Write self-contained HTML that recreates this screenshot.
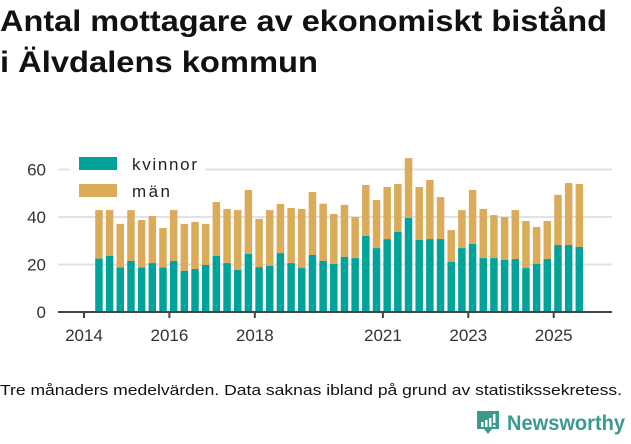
<!DOCTYPE html>
<html><head><meta charset="utf-8"><style>
body{margin:0;width:631px;height:439px;background:#fff;overflow:hidden;font-family:"Liberation Sans","DejaVu Sans",sans-serif}
</style></head><body>
<svg width="631" height="439" xmlns="http://www.w3.org/2000/svg">
<text x="0" y="31" font-size="30" font-weight="bold" fill="#111" textLength="607" lengthAdjust="spacingAndGlyphs">Antal mottagare av ekonomiskt bistånd</text>
<text x="0" y="72" font-size="30" font-weight="bold" fill="#111" textLength="318" lengthAdjust="spacingAndGlyphs">i Älvdalens kommun</text>
<g id="grid"></g>
<g id="bars"></g>
<g id="axis"></g>
<rect x="70" y="150" width="135" height="55" fill="#fff"/>
<rect x="79" y="157" width="38" height="13" fill="#00a39a"/>
<text x="132" y="170" font-size="17" fill="#222" textLength="65">kvinnor</text>
<rect x="79" y="184" width="38" height="13" fill="#dbab5a"/>
<text x="132" y="197" font-size="17" fill="#222" textLength="38">män</text>
<text x="0" y="395" font-size="15" fill="#111" textLength="622" lengthAdjust="spacingAndGlyphs">Tre månaders medelvärden. Data saknas ibland på grund av statistikssekretess.</text>
<g>
<path d="M477 411h22v18h-7l-4 5-4-5h-7z" fill="#3a9a8e"/>
<rect x="481" y="422" width="2.5" height="5" fill="#fff"/><rect x="485" y="420" width="2.5" height="7" fill="#fff"/><rect x="489" y="418" width="2.5" height="9" fill="#fff"/><rect x="493" y="414" width="2.5" height="9" fill="#fff"/><rect x="493" y="425" width="2.5" height="2" fill="#fff"/>
<text x="507" y="430" font-size="21" font-weight="bold" fill="#3a9a8e" textLength="118" lengthAdjust="spacingAndGlyphs">Newsworthy</text>
</g>
</svg>
<script>
const kvinnor=[22.5,23.6,18.7,21.5,18.7,20.6,18.7,21.5,17.3,18.1,19.8,23.6,20.6,17.7,24.4,18.9,19.4,24.8,20.6,18.5,24.0,21.5,20.2,23.2,22.7,32.0,26.9,30.7,33.7,39.6,30.3,30.7,30.7,21.1,26.9,28.6,22.7,22.7,21.9,22.3,18.5,20.2,22.3,28.2,28.2,27.4];
const total=[42.9,42.9,37.1,42.9,38.7,40.4,35.4,42.9,37.1,37.9,37.1,46.3,43.4,42.9,51.4,39.2,42.9,45.5,43.8,43.4,50.5,45.6,41.3,45.1,40.0,53.5,47.2,52.6,53.9,64.8,52.6,55.6,48.4,34.5,42.9,51.4,43.4,40.8,40.0,42.9,38.3,35.8,38.3,49.3,54.3,53.9];
const yTicks=[0,20,40,60];
const xTicks=[2014,2016,2018,2021,2023,2025];
const startYear=2014.35;
const NS="http://www.w3.org/2000/svg";
const y=v=>312-v*2.375;
const x=t=>84+(t-2014)*42.7;
const grid=document.getElementById('grid'),bars=document.getElementById('bars'),axis=document.getElementById('axis');
function mk(tag,at,p){const e=document.createElementNS(NS,tag);for(const k in at)e.setAttribute(k,at[k]);p.appendChild(e);return e;}
yTicks.forEach(v=>{
 if(v>0){const l=mk('line',{x1:58,x2:612,y1:y(v),y2:y(v),stroke:'#e2e2e2','stroke-width':2},grid);
 
 }
 const t=mk('text',{x:46,y:y(v)+6,'font-size':17,fill:'#333','text-anchor':'end'},axis);t.textContent=v;
 
 
});
kvinnor.forEach((k,i)=>{
 const c=x(startYear+i*0.25),w=7.5,m=total[i]-k;
 const a=mk('rect',{x:c-w/2,y:y(total[i]),width:w,height:m*2.375,fill:'#dbab5a'},bars);
 
 
 const b=mk('rect',{x:c-w/2,y:y(k),width:w,height:k*2.375,fill:'#00a39a'},bars);
 
 
});
const ax=mk('line',{x1:58,x2:612,y1:312,y2:312,stroke:'#444','stroke-width':2},axis);


xTicks.forEach(yr=>{
 const tk=mk('line',{x1:x(yr),x2:x(yr),y1:312,y2:318,stroke:'#444','stroke-width':2},axis);
 
 
 const t=mk('text',{x:x(yr),y:341,'font-size':17,fill:'#333','text-anchor':'middle'},axis);t.textContent=yr;
 
 
});
</script>
</body></html>
